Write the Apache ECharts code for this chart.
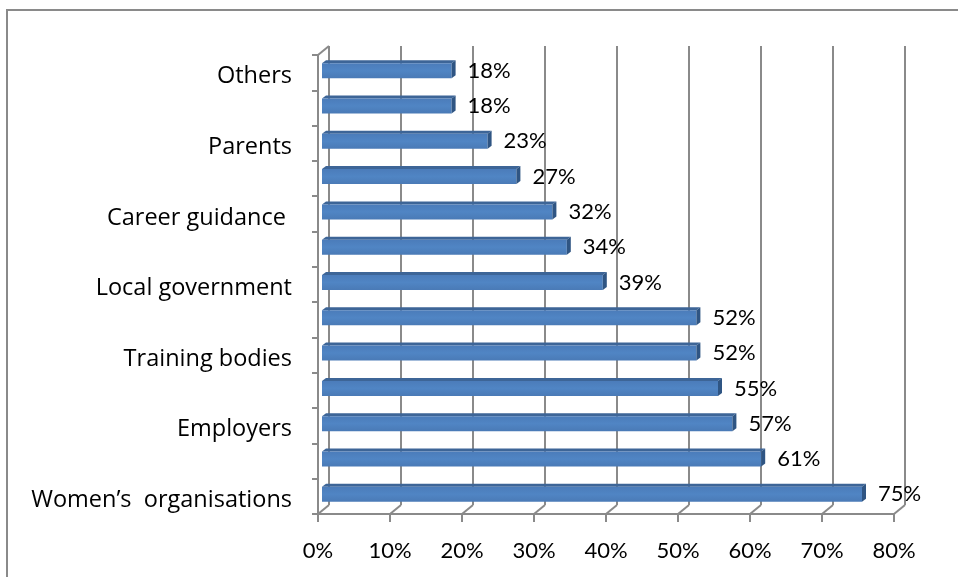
<!DOCTYPE html>
<html>
<head>
<meta charset="utf-8">
<script src="https://cdn.jsdelivr.net/npm/echarts@6/dist/echarts.min.js"></script>
<style>
  html, body { margin: 0; padding: 0; background: #fff; }
  #chart { width: 958px; height: 577px; }
</style>
</head>
<body>
<div id="chart"></div>
<script>
// Rows listed bottom to top; blank rows carry no axis text
const categories = [
  "Women\u2019s  organisations", "", "Employers", "", "Training bodies", "",
  "Local government", "", "Career guidance ", "", "Parents", "", "Others"
];
const shares = [75, 61, 57, 55, 52, 52, 39, 34, 32, 27, 23, 18, 18];
const xTicks = [0, 10, 20, 30, 40, 50, 60, 70, 80];

const NUM_FONT = 'Lato';
const CAT_FONT = 'Open Sans';
const FONT_SIZE = 22;
const CAT_SIZE = 23.5;
const GRID_GRAY = '#8a8a8a';

// depth of the 3D box (front floor -> back wall)
const DEPTH_X = 11, DEPTH_Y = -9;
// bars sit partway into the depth
const BAR_DX = 4, BAR_DY = -2;
const BAR_H = 15, TOP_T = 3, TOP_S = 4;

const chart = echarts.init(document.getElementById('chart'), null, { renderer: 'canvas' });

function renderBar(params, api) {
  const i = api.value(1);
  const v = api.value(0);
  const p0 = api.coord([0, i]);
  const p1 = api.coord([v, i]);
  const xa = p0[0] + BAR_DX, xb = p1[0] + BAR_DX;
  const yc = p0[1] + BAR_DY;
  const yt = yc - BAR_H / 2, yb = yc + BAR_H / 2;
  return {
    type: 'group',
    children: [
      {
        type: 'polygon',
        shape: { points: [[xa, yt], [xb, yt], [xb + TOP_S, yt - TOP_T], [xa + TOP_S, yt - TOP_T]] },
        style: { fill: '#3d6597' }
      },
      {
        type: 'rect',
        shape: { x: xa, y: yt, width: xb - xa, height: BAR_H },
        style: {
          fill: new echarts.graphic.LinearGradient(0, 0, 0, 1, [
            { offset: 0, color: '#4b7cba' },
            { offset: 0.5, color: '#5085c4' },
            { offset: 1, color: '#4a7ab6' }
          ])
        }
      },
      {
        type: 'polygon',
        shape: { points: [[xb, yt], [xb + TOP_S, yt - TOP_T], [xb + TOP_S, yb - TOP_T], [xb, yb]] },
        style: { fill: '#2f5583' }
      },
      {
        type: 'text',
        style: {
          x: xb + TOP_S + 12, y: yc,
          text: v + '%',
          fill: '#000', font: FONT_SIZE + 'px ' + NUM_FONT,
          align: 'left', verticalAlign: 'middle'
        }
      }
    ]
  };
}

function renderConnector(params, api) {
  const cs = params.coordSys;
  const p = api.coord([api.value(0), 0]);
  const yB = cs.y + cs.height;
  const children = [{
    type: 'line',
    shape: { x1: p[0], y1: yB, x2: p[0] + DEPTH_X, y2: yB + DEPTH_Y },
    style: { stroke: GRID_GRAY, lineWidth: 2 }
  }];
  if (params.dataIndex === 0) {
    children.push({
      type: 'line',
      shape: { x1: cs.x, y1: cs.y, x2: cs.x + DEPTH_X, y2: cs.y + DEPTH_Y },
      style: { stroke: GRID_GRAY, lineWidth: 2 }
    });
  }
  return { type: 'group', children };
}

const option = {
  animation: false,
  backgroundColor: '#fff',
  textStyle: { fontFamily: NUM_FONT },
  graphic: [{
    type: 'polyline',
    shape: { points: [[7, 577], [7, 10], [958, 10]] },
    style: { stroke: GRID_GRAY, lineWidth: 2, fill: null },
    z: 0
  }],
  grid: [
    { left: 318, right: 64, top: 55, bottom: 63 },
    { left: 318 + DEPTH_X, right: 64 - DEPTH_X, top: 55 + DEPTH_Y, bottom: 63 - DEPTH_Y }
  ],
  xAxis: [
    {
      gridIndex: 0, type: 'value', min: 0, max: 80, interval: 10,
      axisLine: { show: true, lineStyle: { color: GRID_GRAY, width: 2 } },
      axisTick: { show: true, length: 8, lineStyle: { color: GRID_GRAY, width: 2 } },
      splitLine: { show: false },
      axisLabel: {
        formatter: '{value}%', color: '#000', fontFamily: NUM_FONT, fontSize: FONT_SIZE, margin: 26
      }
    },
    {
      gridIndex: 1, type: 'value', min: 0, max: 80, interval: 10,
      axisLine: { show: false }, axisTick: { show: false }, axisLabel: { show: false },
      splitLine: { show: true, lineStyle: { color: GRID_GRAY, width: 2 } }
    }
  ],
  yAxis: [
    {
      gridIndex: 0, type: 'category', data: categories,
      axisLine: { show: true, lineStyle: { color: GRID_GRAY, width: 2 } },
      axisTick: { show: true, length: 6, lineStyle: { color: GRID_GRAY, width: 2 } },
      axisLabel: {
        interval: 0, margin: 26,
        formatter: v => (v ? '{c|' + v + '}' : ''),
        rich: {
          c: {
            color: '#000', fontFamily: CAT_FONT, fontSize: CAT_SIZE,
            padding: [8, 0, 0, 0]
          }
        }
      }
    },
    { gridIndex: 1, type: 'value', show: false, min: 0, max: 1 }
  ],
  series: [
    {
      type: 'custom', xAxisIndex: 0, yAxisIndex: 0,
      renderItem: renderConnector,
      encode: { x: 0 },
      data: xTicks.map(v => [v, 0]),
      z: 1, silent: true
    },
    {
      type: 'custom', xAxisIndex: 0, yAxisIndex: 0,
      renderItem: renderBar,
      encode: { x: 0, y: 1 },
      data: shares.map((v, i) => [v, i]),
      z: 3
    }
  ]
};

chart.setOption(option);
</script>
</body>
</html>
